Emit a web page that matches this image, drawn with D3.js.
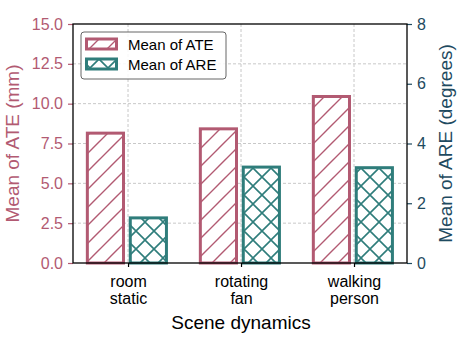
<!DOCTYPE html>
<html>
<head>
<meta charset="utf-8">
<script src="https://cdn.jsdelivr.net/npm/d3@7"></script>
<style>
  body { margin: 0; background: #fff; }
  svg text { font-family: "Liberation Sans", Arial, sans-serif; }
</style>
</head>
<body>
<div id="chart"></div>
<script>
// data
const scenes = [["room", "static"], ["rotating", "fan"], ["walking", "person"]];
const ateMean = [8.15, 8.42, 10.45];   // mm
const areMean = [1.51, 3.21, 3.19];    // degrees
const ateTicks = [0, 2.5, 5, 7.5, 10, 12.5, 15];
const areTicks = [0, 2, 4, 6, 8];
const seriesNames = ["Mean of ATE", "Mean of ARE"];

const width = 472;
const height = 354;
const margin = { top: 24, right: 65, bottom: 91, left: 73 };
const innerW = width - margin.left - margin.right;
const innerH = height - margin.top - margin.bottom;

const ateColor = "#b25a72";
const areColor = "#2f7d7b";
const leftAxisColor = "#b25a72";
const rightAxisColor = "#1e4a60";

const svg = d3.select("#chart").append("svg")
  .attr("width", width)
  .attr("height", height);

// hatch patterns
const defs = svg.append("defs");
const slash = defs.append("pattern")
  .attr("id", "hatchSlash")
  .attr("patternUnits", "userSpaceOnUse")
  .attr("width", 18).attr("height", 18);
slash.append("rect").attr("width", 18).attr("height", 18).attr("fill", "#fff");
slash.append("path")
  .attr("d", "M-4.5,4.5 L4.5,-4.5 M0,18 L18,0 M13.5,22.5 L22.5,13.5")
  .attr("stroke", ateColor).attr("stroke-width", 1.4);

const cross = defs.append("pattern")
  .attr("id", "hatchCross")
  .attr("patternUnits", "userSpaceOnUse")
  .attr("width", 18).attr("height", 18);
cross.append("rect").attr("width", 18).attr("height", 18).attr("fill", "#fff");
cross.append("path")
  .attr("d", "M-4.5,4.5 L4.5,-4.5 M0,18 L18,0 M13.5,22.5 L22.5,13.5 M-4.5,13.5 L4.5,22.5 M0,0 L18,18 M13.5,-4.5 L22.5,4.5")
  .attr("stroke", areColor).attr("stroke-width", 1.6);

const g = svg.append("g")
  .attr("transform", `translate(${margin.left},${margin.top})`);

// x: category index on a linear scale like matplotlib
const x = d3.scaleLinear().domain([-0.487, 2.469]).range([0, innerW]);
const yL = d3.scaleLinear().domain([0, 15]).range([innerH, 0]);
const yR = d3.scaleLinear().domain([0, 8]).range([innerH, 0]);

// grid
const grid = g.append("g").attr("stroke", "#c8c8c8").attr("stroke-width", 1)
  .attr("stroke-dasharray", "3,2");
grid.selectAll(".hg").data(ateTicks.slice(1, -1)).join("line")
  .attr("x1", 0).attr("x2", innerW)
  .attr("y1", d => yL(d)).attr("y2", d => yL(d));
grid.selectAll(".vg").data(d3.range(scenes.length)).join("line")
  .attr("x1", d => x(d)).attr("x2", d => x(d))
  .attr("y1", 0).attr("y2", innerH);

// bars
const barW = 0.32;
g.selectAll(".ate").data(ateMean).join("rect")
  .attr("x", (d, i) => x(i - 0.2 - barW / 2))
  .attr("width", x(barW) - x(0))
  .attr("y", d => yL(d))
  .attr("height", d => innerH - yL(d))
  .attr("fill", "url(#hatchSlash)")
  .attr("stroke", ateColor).attr("stroke-width", 3);

g.selectAll(".are").data(areMean).join("rect")
  .attr("x", (d, i) => x(i + 0.18 - barW / 2))
  .attr("width", x(barW) - x(0))
  .attr("y", d => yR(d))
  .attr("height", d => innerH - yR(d))
  .attr("fill", "url(#hatchCross)")
  .attr("stroke", areColor).attr("stroke-width", 3);

// left axis
const axL = g.append("g")
  .call(d3.axisLeft(yL).tickValues(ateTicks).tickFormat(d3.format(".1f")).tickSize(5).tickPadding(5).tickSizeOuter(0));
axL.select(".domain").remove();
axL.selectAll("line").attr("stroke", leftAxisColor).attr("stroke-width", 1.2);
axL.selectAll("text").attr("fill", leftAxisColor).style("font-size", "16px");

// right axis
const axR = g.append("g")
  .attr("transform", `translate(${innerW},0)`)
  .call(d3.axisRight(yR).tickValues(areTicks).tickSize(5).tickPadding(5).tickSizeOuter(0));
axR.select(".domain").remove();
axR.selectAll("line").attr("stroke", rightAxisColor).attr("stroke-width", 1.2);
axR.selectAll("text").attr("fill", rightAxisColor).style("font-size", "16px");

// bottom axis, two-line labels
const axB = g.append("g")
  .attr("transform", `translate(0,${innerH})`)
  .call(d3.axisBottom(x).tickValues(d3.range(scenes.length)).tickSize(4).tickFormat("").tickSizeOuter(0));
axB.select(".domain").remove();
axB.selectAll("line").attr("stroke", "#000").attr("stroke-width", 1.2);
axB.selectAll(".tick").each(function(d) {
  const t = d3.select(this).append("text")
    .attr("fill", "#000")
    .attr("text-anchor", "middle")
    .style("font-size", "16px");
  scenes[d].forEach((s, k) => {
    t.append("tspan").attr("x", 0).attr("y", 24 + k * 17).text(s);
  });
});

// frame
g.append("rect")
  .attr("width", innerW).attr("height", innerH)
  .attr("fill", "none").attr("stroke", "#000").attr("stroke-width", 1.3);

// axis titles
svg.append("text")
  .attr("transform", `translate(18.5,${margin.top + innerH / 2}) rotate(-90)`)
  .attr("text-anchor", "middle")
  .attr("fill", leftAxisColor)
  .style("font-size", "19px")
  .text("Mean of ATE (mm)");

svg.append("text")
  .attr("transform", `translate(451.5,${margin.top + innerH / 2}) rotate(-90)`)
  .attr("text-anchor", "middle")
  .attr("fill", rightAxisColor)
  .style("font-size", "19px")
  .text("Mean of ARE (degrees)");

svg.append("text")
  .attr("x", margin.left + x(1))
  .attr("y", 329)
  .attr("text-anchor", "middle")
  .attr("fill", "#000")
  .style("font-size", "19px")
  .text("Scene dynamics");

// legend
const legend = svg.append("g").attr("transform", "translate(81,32)");
legend.append("rect")
  .attr("width", 145).attr("height", 47).attr("rx", 3)
  .attr("fill", "#fff").attr("fill-opacity", 0.85)
  .attr("stroke", "#666").attr("stroke-width", 1);
const fills = ["url(#hatchSlash)", "url(#hatchCross)"];
const strokes = [ateColor, areColor];
seriesNames.forEach((name, i) => {
  const row = legend.append("g").attr("transform", `translate(0,${7 + i * 20})`);
  row.append("rect")
    .attr("x", 5.5).attr("width", 30).attr("height", 10)
    .attr("fill", fills[i]).attr("stroke", strokes[i]).attr("stroke-width", 3);
  row.append("text")
    .attr("x", 47).attr("y", 10.5)
    .attr("fill", "#000")
    .style("font-size", "15px")
    .text(name);
});
</script>
</body>
</html>
